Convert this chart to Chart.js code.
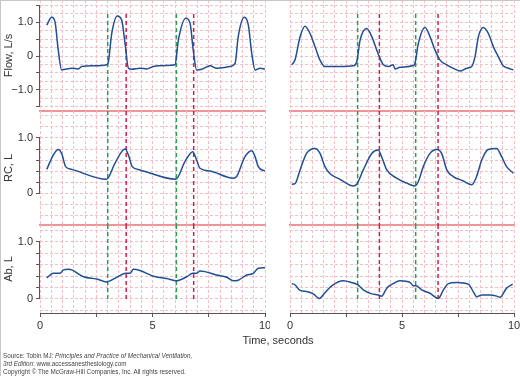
<!DOCTYPE html>
<html>
<head>
<meta charset="utf-8">
<script src="https://cdn.jsdelivr.net/npm/chart.js@4.4.1/dist/chart.umd.min.js"></script>
<style>
body { margin: 0; background: #fff; }
#wrap { position: relative; width: 520px; height: 376px; overflow: hidden; font-family: 'Liberation Sans', Arial, sans-serif; }
#wrap canvas { position: absolute; }
#frame { position: absolute; left: 0; top: 0; width: 520px; height: 376px; border-left: 1px solid #c6c6c6; border-top: 1px solid #c6c6c6; box-sizing: border-box; }
#xtitle { position: absolute; left: 218px; width: 120px; top: 334px; text-align: center; font-size: 11px; color: #333; }
#source { position: absolute; left: 3px; top: 352px; font-size: 6.3px; line-height: 8px; color: #444; white-space: nowrap; }
</style>
</head>
<body>
<div id="wrap">
  <canvas id="flowL" width="270" height="112" style="left:0;top:0"></canvas>
  <canvas id="rcL" width="270" height="115" style="left:0;top:111px"></canvas>
  <canvas id="abL" width="270" height="110" style="left:0;top:225px"></canvas>
  <canvas id="flowR" width="250" height="112" style="left:270px;top:0"></canvas>
  <canvas id="rcR" width="250" height="115" style="left:270px;top:111px"></canvas>
  <canvas id="abR" width="250" height="110" style="left:270px;top:225px"></canvas>
  <div id="xtitle">Time, seconds</div>
  <div id="source">Source: Tobin MJ: <i>Principles and Practice of Mechanical Ventilation,</i><br><i>3rd Edition</i>: www.accessanesthesiology.com<br>Copyright © The McGraw-Hill Companies, Inc. All rights reserved.</div>
  <div id="frame"></div>
</div>
<script>
// left recording (seconds / value)
var flowLeftT = [0.3, 0.52, 0.67, 0.81, 0.96, 1.11, 1.41, 1.7, 1.85, 2.37, 2.96, 3.04, 3.19, 3.44, 3.63, 3.78, 3.93, 4.07, 4.44, 4.74, 5.04, 5.63, 6.0, 6.15, 6.48, 6.67, 6.81, 6.96, 7.19, 7.56, 7.85, 8.44, 8.67, 8.81, 9.08, 9.26, 9.41, 9.56, 9.78, 10.0];
var flowLeftV = [0.91, 1.14, 1.0, 0.18, -0.41, -0.39, -0.36, -0.38, -0.31, -0.29, -0.26, -0.17, 0.67, 1.18, 1.06, 0.37, -0.36, -0.39, -0.36, -0.38, -0.31, -0.28, -0.26, 0.47, 1.11, 0.96, 0.18, -0.41, -0.39, -0.29, -0.36, -0.31, -0.22, 0.57, 1.14, 0.91, 0.08, -0.41, -0.36, -0.39];
var rcLeftT = [0.3, 0.59, 0.81, 0.96, 1.14, 1.41, 2.96, 3.33, 3.78, 3.93, 4.1, 4.44, 6.04, 6.44, 6.79, 6.96, 7.11, 7.56, 8.59, 8.74, 9.11, 9.41, 9.56, 9.7, 10.0];
var rcLeftV = [0.43, 0.69, 0.79, 0.72, 0.48, 0.43, 0.25, 0.54, 0.8, 0.69, 0.48, 0.42, 0.25, 0.57, 0.75, 0.6, 0.45, 0.4, 0.27, 0.3, 0.66, 0.77, 0.66, 0.48, 0.4];
var abLeftT = [0.3, 0.59, 0.89, 1.04, 1.26, 1.41, 1.93, 2.52, 2.96, 3.41, 3.82, 4.0, 4.15, 4.44, 5.04, 5.63, 6.07, 6.52, 6.79, 6.96, 7.11, 7.33, 7.85, 8.3, 8.59, 8.81, 9.19, 9.48, 9.7, 10.0];
var abLeftV = [0.37, 0.45, 0.45, 0.51, 0.52, 0.51, 0.39, 0.35, 0.3, 0.38, 0.45, 0.45, 0.52, 0.5, 0.4, 0.36, 0.32, 0.39, 0.45, 0.45, 0.49, 0.48, 0.42, 0.38, 0.32, 0.33, 0.42, 0.45, 0.54, 0.55];

// right recording
var flowRightT = [0.08, 0.22, 0.45, 0.67, 0.89, 1.12, 1.34, 1.56, 1.79, 2.23, 2.83, 2.98, 3.13, 3.42, 3.65, 3.87, 4.02, 4.17, 4.39, 4.61, 4.69, 4.91, 5.51, 5.58, 5.73, 6.03, 6.25, 6.47, 6.7, 7.0, 7.44, 7.59, 7.89, 8.11, 8.26, 8.41, 8.63, 8.85, 9.08, 9.3, 9.52, 9.75, 9.97];
var flowRightV = [-0.26, -0.12, 0.57, 0.88, 0.67, 0.27, -0.12, -0.31, -0.31, -0.31, -0.29, -0.17, 0.47, 0.81, 0.57, 0.18, -0.07, -0.26, -0.31, -0.26, -0.38, -0.33, -0.28, -0.22, 0.37, 0.84, 0.57, 0.18, -0.12, -0.26, -0.41, -0.44, -0.36, -0.31, -0.02, 0.57, 0.84, 0.67, 0.27, -0.02, -0.29, -0.36, -0.41];
var rcRightT = [0.08, 0.22, 0.45, 0.74, 1.12, 1.34, 1.56, 1.79, 2.23, 2.83, 2.98, 3.27, 3.65, 3.94, 4.09, 4.32, 4.76, 5.21, 5.58, 5.73, 5.95, 6.25, 6.55, 6.77, 7.0, 7.29, 7.74, 8.11, 8.33, 8.56, 8.85, 9.23, 9.45, 9.67, 9.97];
var rcRightV = [0.16, 0.17, 0.42, 0.72, 0.81, 0.72, 0.48, 0.35, 0.25, 0.13, 0.16, 0.42, 0.72, 0.78, 0.66, 0.42, 0.27, 0.18, 0.13, 0.21, 0.48, 0.72, 0.79, 0.72, 0.42, 0.3, 0.22, 0.15, 0.3, 0.6, 0.79, 0.81, 0.66, 0.48, 0.36];
var abRightT = [0.08, 0.22, 0.45, 0.74, 1.04, 1.31, 1.56, 1.86, 2.38, 2.75, 3.02, 3.27, 3.65, 3.94, 4.09, 4.32, 4.61, 4.91, 5.36, 5.51, 5.63, 5.88, 6.25, 6.62, 6.85, 7.07, 7.44, 7.96, 8.18, 8.33, 8.56, 8.93, 9.23, 9.37, 9.67, 9.94];
var abRightV = [0.27, 0.25, 0.15, 0.13, 0.09, 0.01, 0.11, 0.23, 0.32, 0.29, 0.25, 0.16, 0.09, 0.07, 0.05, 0.19, 0.27, 0.32, 0.29, 0.23, 0.23, 0.16, 0.1, 0.01, 0.16, 0.27, 0.29, 0.26, 0.13, 0.04, 0.07, 0.07, 0.05, 0.03, 0.19, 0.26];

// dashed event markers (seconds)
var markLeftGreen = [3.01, 6.06];
var markLeftRed = [3.83, 6.83];
var markRightGreen = [3.02, 5.61];
var markRightRed = [3.99, 6.61];

// axis labels
var timeTickValues = [0, 5, 10];
var timeTickLabels = ['0', '5', '10'];
var flowTickValues = [1, 0, -1];
var flowTickLabels = ['1.0', '0', '\u22121.0'];
var volTickValues = [1, 0];
var volTickLabels = ['1.0', '0'];

var traceBlue = '#1f4f94';
var gridPink = '#f3bfc5';
var sepRed = '#ef959a';
var markGreen = '#2f9b4e';
var markRed = '#cc1f4d';
var axisGray = '#555555';
var textGray = '#333333';

Chart.defaults.font.family = "'Liberation Sans', Arial, sans-serif";
Chart.defaults.font.size = 11;

function onStep(v, step) {
    var r = v / step;
    return Math.abs(r - Math.round(r)) < 1e-6;
}

function findLabel(v, values, labels) {
    for (var i = 0; i < values.length; i++) {
        if (Math.abs(values[i] - v) < 1e-6) return labels[i];
    }
    return '';
}

function toPoints(ts, vs) {
    return ts.map(function(t, i) {
        return {x: t, y: vs[i]};
    });
}

function markerSets(greens, reds, top, bottom) {
    var sets = [];
    greens.concat(reds).forEach(function(m, i) {
        sets.push({
            data: [{x: m, y: top}, {x: m, y: bottom}],
            borderColor: i < greens.length ? markGreen : markRed,
            borderDash: [4, 3],
            borderWidth: 1.5,
            tension: 0
        });
    });
    return sets;
}

// draws the y axis line only over the labelled range
var axisSegment = {
    id: 'axisSegment',
    afterDraw: function(chart, args, opts) {
        var y = chart.scales.y;
        var ctx = chart.ctx;
        var x = chart.chartArea.left - 0.5;
        ctx.save();
        ctx.strokeStyle = axisGray;
        ctx.lineWidth = 1;
        ctx.beginPath();
        ctx.moveTo(x, y.getPixelForValue(opts.from));
        ctx.lineTo(x, y.getPixelForValue(opts.to));
        ctx.stroke();
        ctx.restore();
    }
};

function makePanel(id, p) {
    var isLeft = p.side === 'left';

    var yScale = {
        type: 'linear',
        min: p.yMin,
        max: p.yMax,
        afterFit: function(s) {
            s.width = isLeft ? 40 : 0;
            s.paddingTop = 0;
            s.paddingBottom = 0;
        },
        title: {
            display: isLeft,
            text: p.title,
            color: textGray,
            font: {size: 11},
            padding: {top: 2, bottom: 0}
        },
        ticks: {
            display: isLeft,
            stepSize: p.gridStep,
            autoSkip: false,
            includeBounds: false,
            color: textGray,
            padding: 3,
            callback: function(v) {
                return findLabel(v, p.labelValues, p.labelTexts);
            }
        },
        grid: {
            color: gridPink,
            drawTicks: isLeft,
            tickLength: 4,
            tickColor: function(c) {
                if (!c.tick) return 'rgba(0,0,0,0)';
                var v = c.tick.value;
                var on = onStep(v, p.tickStep) && v >= p.tickFrom - 1e-6 && v <= p.tickTo + 1e-6;
                return on ? axisGray : 'rgba(0,0,0,0)';
            }
        },
        border: {display: false, dash: [3, 2]}
    };

    var xScale = {
        type: 'linear',
        min: 0,
        max: 10,
        afterFit: function(s) {
            if (p.timeAxis) s.height = 22;
            s.paddingLeft = 0;
            s.paddingRight = 0;
        },
        ticks: {
            display: !!p.timeAxis,
            stepSize: 0.5,
            autoSkip: false,
            includeBounds: false,
            maxRotation: 0,
            padding: 2,
            color: textGray,
            callback: function(v) {
                return findLabel(v, timeTickValues, timeTickLabels);
            }
        },
        grid: {
            color: gridPink,
            drawTicks: !!p.timeAxis,
            tickLength: 4,
            tickColor: function(c) {
                if (!c.tick) return 'rgba(0,0,0,0)';
                return onStep(c.tick.value, 2.5) ? axisGray : 'rgba(0,0,0,0)';
            }
        },
        border: p.timeAxis
            ? {display: true, color: axisGray, width: 1, dash: [3, 2]}
            : {display: true, color: sepRed, width: 2, dash: [3, 2]}
    };

    var trace = {
        data: toPoints(p.t, p.v),
        borderColor: traceBlue,
        borderWidth: 1.5,
        cubicInterpolationMode: 'monotone'
    };

    new Chart(document.getElementById(id), {
        type: 'line',
        data: {
            datasets: [trace].concat(markerSets(p.greens, p.reds, p.markTop, p.markBottom))
        },
        options: {
            responsive: false,
            animation: false,
            devicePixelRatio: 1,
            layout: {
                autoPadding: false,
                padding: {
                    left: isLeft ? 0 : 20,
                    right: isLeft ? 5 : 6,
                    top: 0,
                    bottom: p.timeAxis ? 0 : 1
                }
            },
            elements: {point: {radius: 0}},
            plugins: {
                legend: {display: false},
                tooltip: {enabled: false},
                axisSegment: {from: p.tickFrom, to: p.tickTo}
            },
            scales: {x: xScale, y: yScale}
        },
        plugins: isLeft ? [axisSegment] : []
    });
}

var flowBase = {title: 'Flow, L/s', yMin: -1.62, yMax: 1.65, gridStep: 0.25, tickStep: 0.5, tickFrom: -1.5, tickTo: 1.5,
    labelValues: flowTickValues, labelTexts: flowTickLabels, markTop: 1.24, markBottom: -1.62};
var rcBase = {title: 'RC, L', yMin: -0.58, yMax: 1.49, gridStep: 0.2, tickStep: 0.2, tickFrom: 0, tickTo: 1,
    labelValues: volTickValues, labelTexts: volTickLabels, markTop: 1.49, markBottom: -0.58};
var abBase = {title: 'Ab, L', yMin: -0.246, yMax: 1.298, gridStep: 0.2, tickStep: 0.2, tickFrom: 0, tickTo: 1,
    labelValues: volTickValues, labelTexts: volTickLabels, markTop: 1.298, markBottom: -0.04, timeAxis: true};

function panel(base, extra) {
    return Object.assign({}, base, extra);
}

makePanel('flowL', panel(flowBase, {side: 'left', t: flowLeftT, v: flowLeftV, greens: markLeftGreen, reds: markLeftRed}));
makePanel('rcL', panel(rcBase, {side: 'left', t: rcLeftT, v: rcLeftV, greens: markLeftGreen, reds: markLeftRed}));
makePanel('abL', panel(abBase, {side: 'left', t: abLeftT, v: abLeftV, greens: markLeftGreen, reds: markLeftRed}));
makePanel('flowR', panel(flowBase, {side: 'right', t: flowRightT, v: flowRightV, greens: markRightGreen, reds: markRightRed}));
makePanel('rcR', panel(rcBase, {side: 'right', t: rcRightT, v: rcRightV, greens: markRightGreen, reds: markRightRed}));
makePanel('abR', panel(abBase, {side: 'right', t: abRightT, v: abRightV, greens: markRightGreen, reds: markRightRed}));
</script>
</body>
</html>
